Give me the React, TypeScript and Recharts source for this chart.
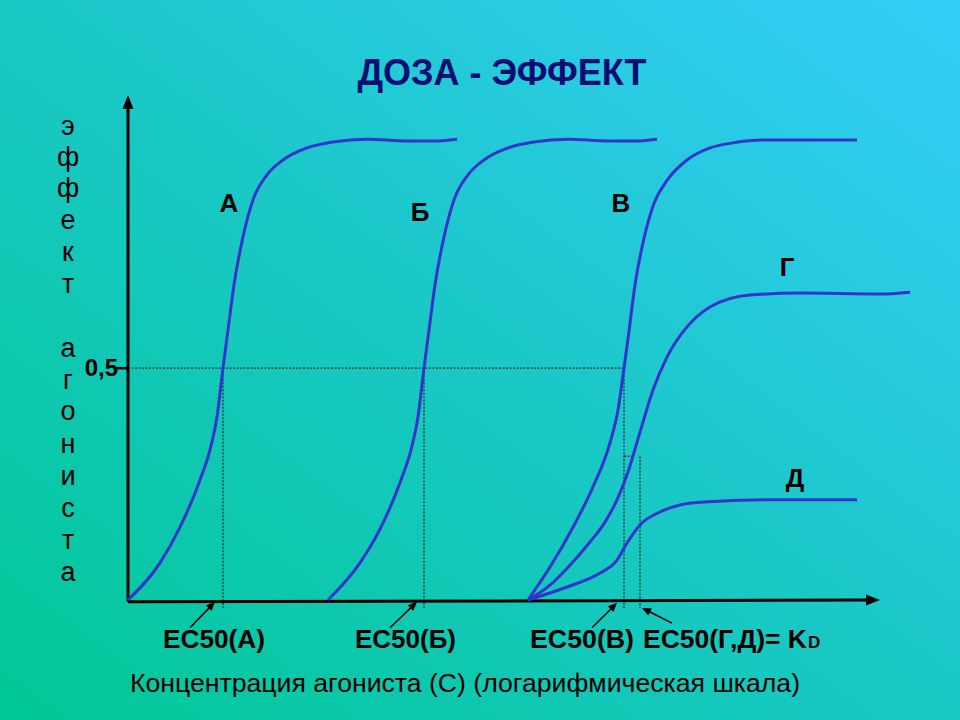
import React from 'react';
import { LineChart, Line, XAxis, YAxis, ReferenceLine } from 'recharts';

// x: log concentration (arbitrary units), y: fraction of max effect
const CURVE_A: [number, number][] = [
    [0, 0], [3.2, 0.08], [5.2, 0.157], [7.2, 0.259], [8.2, 0.324], [8.9, 0.395], [9.5, 0.5],
    [10.0, 0.582], [10.6, 0.68], [11.5, 0.783], [12.5, 0.863], [13.9, 0.917], [15.5, 0.949],
    [17.9, 0.975], [20.5, 0.988], [23.9, 0.994], [27.9, 0.99], [30.5, 0.99], [32.9, 0.994],
];
const CURVE_B: [number, number][] = [
    [20, 0], [23.2, 0.08], [25.3, 0.157], [27.3, 0.259], [28.3, 0.324], [29.0, 0.395], [29.6, 0.5],
    [30.1, 0.582], [30.7, 0.68], [31.6, 0.783], [32.6, 0.863], [34.0, 0.917], [35.6, 0.949],
    [38.0, 0.975], [40.6, 0.988], [44.0, 0.994], [48.0, 0.99], [50.6, 0.99], [52.9, 0.994],
];
const CURVE_V: [number, number][] = [
    [40, 0], [42.2, 0.071], [44.5, 0.157], [46.5, 0.244], [48.2, 0.339], [49.0, 0.41], [49.6, 0.5],
    [50.1, 0.58], [50.7, 0.68], [51.6, 0.78], [52.6, 0.855], [53.9, 0.905], [55.9, 0.949],
    [58.2, 0.975], [60.5, 0.986], [63.5, 0.992], [67.2, 0.992], [72.9, 0.992],
];
const CURVE_G: [number, number][] = [
    [40, 0], [42.2, 0.032], [44.2, 0.075], [46.2, 0.125], [47.7, 0.168], [48.9, 0.216], [50.0, 0.276],
    [51.2, 0.362], [52.5, 0.453], [53.9, 0.524], [55.9, 0.589], [58.2, 0.632], [62.2, 0.658],
    [67.2, 0.662], [75.2, 0.66], [78.2, 0.664],
];
const CURVE_D: [number, number][] = [
    [40, 0], [43.9, 0.028], [47.2, 0.058], [48.9, 0.086], [49.9, 0.123], [51.2, 0.162], [53.2, 0.19],
    [55.2, 0.205], [57.2, 0.211], [63.9, 0.216], [72.9, 0.216],
];

const EC50_X = [9.5, 29.6, 49.6]; // А, Б, В
const EC50_GD = 51.2;
const HALF_GD = 0.31;
const HALF = 0.5;
// label arrows: [tailX, tailY, headX, headY]
const LABEL_ARROWS: [number, number, number, number][] = [
    [6.2, -0.06, 8.7, -0.004],
    [26.2, -0.06, 28.9, -0.004],
    [46.4, -0.06, 48.9, -0.006],
    [54.4, -0.05, 51.4, -0.017],
];

const BLUE = '#3434cc';
const FONT = '"Liberation Sans", Arial, sans-serif';

const pts = (arr: [number, number][]) => arr.map(([x, y]) => ({ x, y }));

const makeArrow = (stroke: string, sw: number, len: number, half: number) => (p: any) => {
    const { x1, y1, x2, y2 } = p;
    const dx = x2 - x1, dy = y2 - y1;
    const L = Math.hypot(dx, dy) || 1;
    const ux = dx / L, uy = dy / L;
    const bx = x2 - ux * len, by = y2 - uy * len;
    const poly = `${x2},${y2} ${bx - uy * half},${by + ux * half} ${bx + uy * half},${by - ux * half}`;
    return (
        <g>
            <line x1={x1} y1={y1} x2={bx + ux} y2={by + uy} stroke={stroke} strokeWidth={sw} />
            <polygon points={poly} fill={stroke} />
        </g>
    );
};

const halfTick = (p: any) => (
    <g>
        <line x1={p.x1} y1={p.y1} x2={p.x2} y2={p.y2} stroke="#000" strokeWidth={2.5} />
        <text x={p.x1 + 2} y={p.y1 + 8} textAnchor="end" fontFamily={FONT} fontWeight="bold" fontSize={24} fill="#000">
            0,5
        </text>
    </g>
);

const guide = { stroke: '#163232', strokeWidth: 1.3, strokeDasharray: '2 1.5' };

const Y_LETTERS: [string, number][] = [
    ['э', 135], ['ф', 166], ['ф', 197], ['е', 229], ['к', 261], ['т', 293],
    ['а', 357], ['г', 389], ['о', 420], ['н', 453], ['и', 485], ['с', 517], ['т', 549], ['а', 581],
];

export default function App() {
    return (
        <div
            style={{
                position: 'absolute', left: 0, top: 0, width: 960, height: 720,
                background: 'linear-gradient(to top right, #00c896 0%, #1ac8c6 50%, #35cdfa 100%)',
            }}
        >
            <LineChart width={960} height={720} margin={{ top: 90, right: 32, bottom: 120, left: 128 }}>
                <XAxis type="number" dataKey="x" domain={[0, 80]} hide />
                <YAxis type="number" domain={[0, 1.1]} hide />

                <ReferenceLine segment={[{ x: 0, y: HALF }, { x: EC50_X[2], y: HALF }]} ifOverflow="visible" {...guide} />
                {EC50_X.map((x) => (
                    <ReferenceLine key={x} segment={[{ x, y: HALF }, { x, y: -0.017 }]} ifOverflow="visible" {...guide} />
                ))}
                <ReferenceLine segment={[{ x: EC50_GD, y: HALF_GD }, { x: EC50_GD, y: -0.017 }]} ifOverflow="visible" {...guide} />
                <ReferenceLine segment={[{ x: EC50_X[2], y: HALF_GD }, { x: 50.4, y: HALF_GD }]} ifOverflow="visible" {...guide} />

                <ReferenceLine segment={[{ x: 0, y: -0.004 }, { x: 75.2, y: 0 }]} ifOverflow="visible" shape={makeArrow('#000', 3, 14, 5.5)} />
                <ReferenceLine segment={[{ x: 0, y: -0.004 }, { x: 0, y: 1.089 }]} ifOverflow="visible" shape={makeArrow('#000', 3, 14, 5.5)} />
                <ReferenceLine segment={[{ x: -1.2, y: HALF }, { x: 0, y: HALF }]} ifOverflow="visible" shape={halfTick} />
                {LABEL_ARROWS.map(([x1, y1, x2, y2], i) => (
                    <ReferenceLine
                        key={i}
                        segment={[{ x: x1, y: y1 }, { x: x2, y: y2 }]}
                        ifOverflow="visible"
                        shape={makeArrow('#000', 1.5, 9, 4)}
                    />
                ))}

                {[CURVE_A, CURVE_B, CURVE_V, CURVE_G, CURVE_D].map((c, i) => (
                    <Line
                        key={i}
                        data={pts(c)}
                        dataKey="y"
                        type="monotone"
                        stroke={BLUE}
                        strokeWidth={3}
                        dot={false}
                        activeDot={false}
                        isAnimationActive={false}
                    />
                ))}
            </LineChart>

            <svg width={960} height={720} style={{ position: 'absolute', left: 0, top: 0, pointerEvents: 'none' }}>
                <text x={502} y={85} textAnchor="middle" fontFamily={FONT} fontWeight="bold" fontSize={36} fill="#0c0c72">
                    ДОЗА - ЭФФЕКТ
                </text>
                {Y_LETTERS.map(([ch, y], i) => (
                    <text key={i} x={68} y={y} textAnchor="middle" fontFamily={FONT} fontSize={27} fill="#000">
                        {ch}
                    </text>
                ))}
                <g fontFamily={FONT} fontWeight="bold" fontSize={26} fill="#000" textAnchor="middle">
                    <text x={229} y={212}>А</text>
                    <text x={420} y={221}>Б</text>
                    <text x={621} y={212}>В</text>
                    <text x={787} y={276}>Г</text>
                    <text x={795} y={487}>Д</text>
                </g>
                <g fontFamily={FONT} fontWeight="bold" fontSize={25} fill="#000">
                    <text x={163} y={648} textLength={102} lengthAdjust="spacingAndGlyphs">EC50(А)</text>
                    <text x={355} y={648} textLength={101} lengthAdjust="spacingAndGlyphs">EC50(Б)</text>
                    <text x={530} y={648} textLength={104} lengthAdjust="spacingAndGlyphs">EC50(В)</text>
                    <text x={643} y={648} textLength={164} lengthAdjust="spacingAndGlyphs">EC50(Г,Д)= K</text>
                    <text x={808} y={648} fontSize={17}>D</text>
                </g>
                <text x={130} y={692} fontFamily={FONT} fontSize={25} fill="#000" textLength={670} lengthAdjust="spacingAndGlyphs">
                    Концентрация агониста (С) (логарифмическая шкала)
                </text>
            </svg>
        </div>
    );
}
